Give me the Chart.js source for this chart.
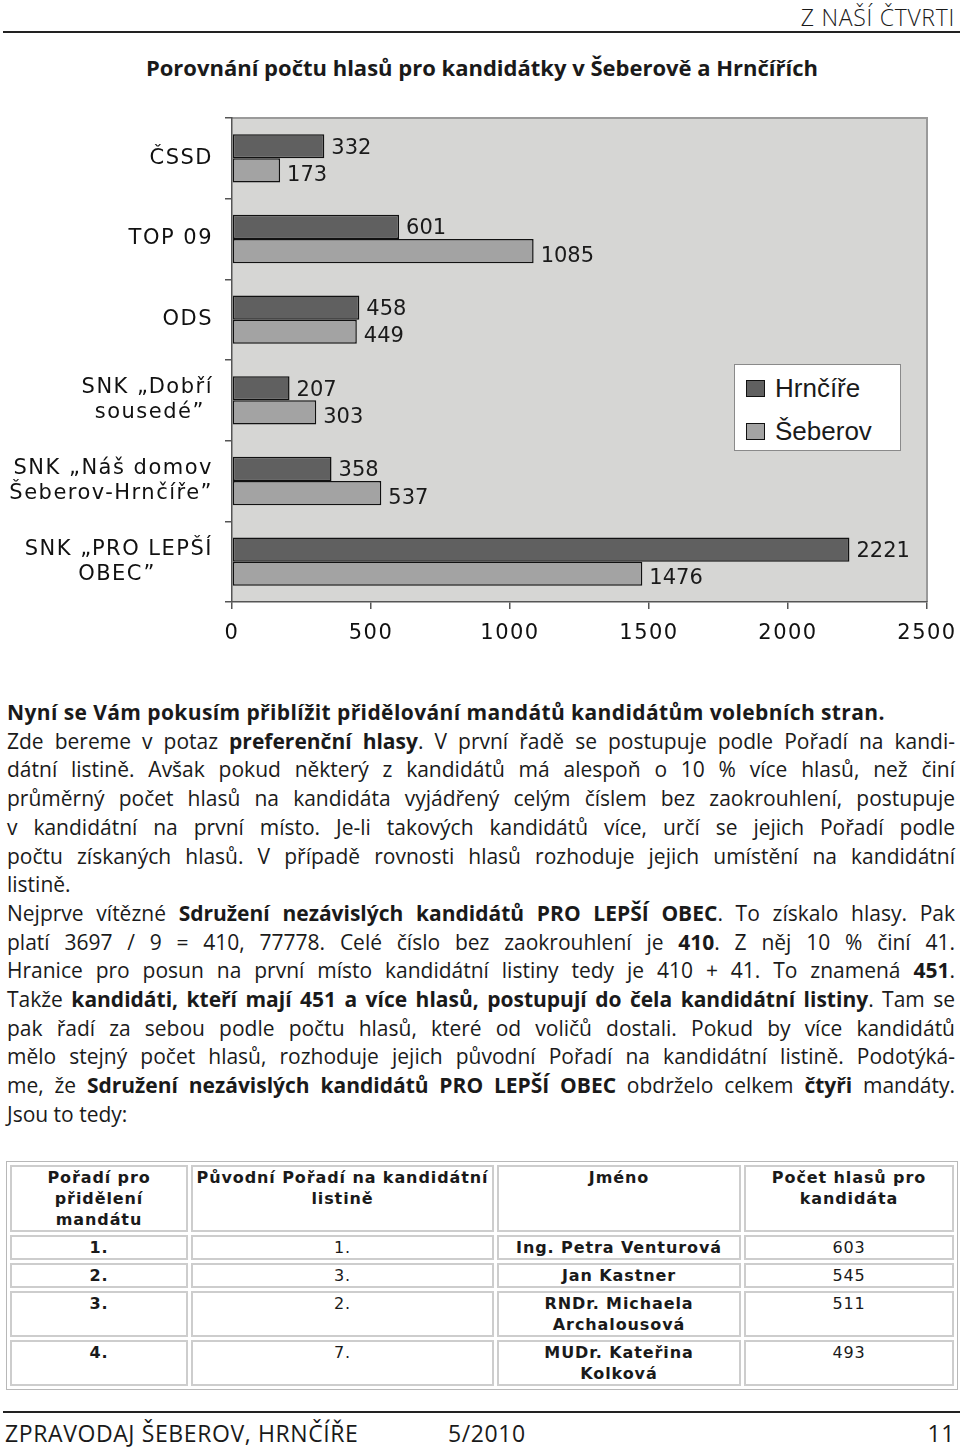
<!DOCTYPE html>
<html lang="cs">
<head>
<meta charset="utf-8">
<script src="https://cdn.jsdelivr.net/npm/chart.js@4"></script>
<style>
  html, body { margin: 0; padding: 0; background: #fff; }
  body { width: 960px; height: 1450px; position: relative; color: #1a1a1a; font-family: "Open Sans", Lato, sans-serif; overflow: hidden; }
  .abs { position: absolute; }
  #rubrika { top: 4px; right: 5px; font-size: 23px; line-height: 26px; font-weight: 300; letter-spacing: 0.7px; }
  .rule { left: 3px; right: 0; height: 2px; background: #222; }
  #nadpis { top: 53px; left: 0; width: 964px; text-align: center; font-size: 22px; line-height: 28px; font-weight: 700; }
  #graf { top: 100px; left: 0; width: 960px; height: 560px; }
  #legenda { left: 734px; top: 364px; width: 167px; height: 87px; box-sizing: border-box; border: 1px solid #8a8a8a; background: #fff; padding-top: 2px; font-family: "Liberation Sans", Arial, sans-serif; font-size: 26px; }
  #legenda .item { display: flex; align-items: center; height: 43px; }
  #legenda .box { width: 17px; height: 15px; border: 1px solid #111; margin: 0 10px 0 11px; }
  #text { top: 698px; left: 7px; width: 948px; font-size: 21px; line-height: 28.7px; }
  #text div { text-align: justify; text-align-last: justify; }
  #text div.end { text-align: left; text-align-last: left; }
  #text div.head { letter-spacing: 0.4px; }
  #text b { font-weight: 700; }
  #tabulka { top: 1161px; left: 6px; width: 952px; border: 1px solid #b8b8b8; border-spacing: 3px; table-layout: fixed; font-family: "DejaVu Sans", sans-serif; font-size: 16px; line-height: 21px; letter-spacing: 0.9px; }
  #tabulka td { border: 2px solid #cdcdcd; padding: 0 2px; text-align: center; vertical-align: top; }
  #tabulka .b { font-weight: 700; }
  #paticka { top: 1420px; left: 0; width: 960px; font-size: 23px; line-height: 26px; letter-spacing: 0.6px; }
</style>
</head>
<body>
<div id="rubrika" class="abs">Z NAŠÍ ČTVRTI</div>
<div class="abs rule" style="top:31px"></div>
<div id="nadpis" class="abs">Porovnání počtu hlasů pro kandidátky v Šeberově a Hrnčířích</div>

<div id="graf" class="abs"><canvas id="c" width="960" height="560"></canvas></div>
<div id="legenda" class="abs"></div>

<div id="text" class="abs">
  <div class="end head"><b>Nyní se Vám pokusím přiblížit přidělování mandátů kandidátům volebních stran.</b></div>
  <div>Zde bereme v potaz <b>preferenční hlasy</b>. V první řadě se postupuje podle Pořadí na kandi-</div>
  <div>dátní listině. Avšak pokud některý z kandidátů má alespoň o 10 % více hlasů, než činí</div>
  <div>průměrný počet hlasů na kandidáta vyjádřený celým číslem bez zaokrouhlení, postupuje</div>
  <div>v kandidátní na první místo. Je-li takových kandidátů více, určí se jejich Pořadí podle</div>
  <div>počtu získaných hlasů. V případě rovnosti hlasů rozhoduje jejich umístění na kandidátní</div>
  <div class="end">listině.</div>
  <div>Nejprve vítězné <b>Sdružení nezávislých kandidátů PRO LEPŠÍ OBEC</b>. To získalo hlasy. Pak</div>
  <div>platí 3697 / 9 = 410, 77778. Celé číslo bez zaokrouhlení je <b>410</b>. Z něj 10 % činí 41.</div>
  <div>Hranice pro posun na první místo kandidátní listiny tedy je 410 + 41. To znamená <b>451</b>.</div>
  <div>Takže <b>kandidáti, kteří mají 451 a více hlasů, postupují do čela kandidátní listiny</b>. Tam se</div>
  <div>pak řadí za sebou podle počtu hlasů, které od voličů dostali. Pokud by více kandidátů</div>
  <div>mělo stejný počet hlasů, rozhoduje jejich původní Pořadí na kandidátní listině. Podotýká-</div>
  <div>me, že <b>Sdružení nezávislých kandidátů PRO LEPŠÍ OBEC</b> obdrželo celkem <b>čtyři</b> mandáty.</div>
  <div class="end">Jsou to tedy:</div>
</div>

<table id="tabulka" class="abs">
  <colgroup><col style="width:178px"><col style="width:303px"><col style="width:244px"><col></colgroup>
  <tr class="b"><td>Pořadí pro<br>přidělení<br>mandátu</td><td>Původní Pořadí na kandidátní<br>listině</td><td>Jméno</td><td>Počet hlasů pro<br>kandidáta</td></tr>
  <tr><td class="b">1.</td><td>1.</td><td class="b">Ing. Petra Venturová</td><td>603</td></tr>
  <tr><td class="b">2.</td><td>3.</td><td class="b">Jan Kastner</td><td>545</td></tr>
  <tr><td class="b">3.</td><td>2.</td><td class="b">RNDr. Michaela<br>Archalousová</td><td>511</td></tr>
  <tr><td class="b">4.</td><td>7.</td><td class="b">MUDr. Kateřina<br>Kolková</td><td>493</td></tr>
</table>

<div class="abs rule" style="top:1411px"></div>
<div id="paticka" class="abs">
  <span class="abs" style="left:5px">ZPRAVODAJ ŠEBEROV, HRNČÍŘE</span>
  <span class="abs" style="left:448px">5/2010</span>
  <span class="abs" style="right:5px">11</span>
</div>

<script>
// kandidatky (trailing spaces keep the 2nd line roughly centred under the 1st)
const categories = [
  ['ČSSD'],
  ['TOP 09'],
  ['ODS'],
  ['SNK „Dobří', 'sousedé” '],
  ['SNK „Náš domov', 'Šeberov-Hrnčíře”'],
  ['SNK „PRO LEPŠÍ', 'OBEC”       ']
];
const seriesNames = ['Hrnčíře', 'Šeberov'];
const hrncire = [332, 601, 458, 207, 358, 2221];
const seberov = [173, 1085, 449, 303, 537, 1476];
const xMin = 0, xMax = 2500, xStep = 500;

const axisFont = { family: 'DejaVu Sans', size: 21 };

// grey plot background + frame, spaced axis text
const plotFrame = {
  id: 'plotFrame',
  beforeDraw(chart) {
    const { ctx, chartArea: a } = chart;
    ctx.fillStyle = '#d6d6d4';
    ctx.fillRect(a.left, a.top, a.right - a.left, a.bottom - a.top);
    ctx.strokeStyle = '#9a9a9a';
    ctx.lineWidth = 2;
    ctx.beginPath();
    ctx.moveTo(a.left, a.top);
    ctx.lineTo(a.right, a.top);
    ctx.lineTo(a.right, a.bottom);
    ctx.stroke();
    ctx.letterSpacing = '1.5px';
  },
  afterDraw(chart) {
    chart.ctx.letterSpacing = '0px';
  }
};

// value next to the end of each bar
const barLabels = {
  id: 'barLabels',
  afterDatasetsDraw(chart) {
    const ctx = chart.ctx;
    ctx.save();
    ctx.letterSpacing = '0px';
    ctx.font = '21px "DejaVu Sans"';
    ctx.fillStyle = '#1a1a1a';
    ctx.textAlign = 'left';
    ctx.textBaseline = 'alphabetic';
    chart.data.datasets.forEach((ds, i) => {
      chart.getDatasetMeta(i).data.forEach((bar, j) => {
        ctx.fillText(ds.data[j], bar.x + 7, bar.y + (i === 0 ? 7.5 : 10.5));
      });
    });
    ctx.restore();
  }
};

const chart = new Chart(document.getElementById('c'), {
  type: 'bar',
  data: {
    labels: categories,
    datasets: [
      { label: seriesNames[0], data: hrncire, backgroundColor: '#606060' },
      { label: seriesNames[1], data: seberov, backgroundColor: '#a3a3a3' }
    ]
  },
  options: {
    indexAxis: 'y',
    responsive: false,
    animation: false,
    layout: { padding: { top: 18, right: 33, left: 0, bottom: 8 } },
    datasets: {
      bar: { categoryPercentage: 0.6, barPercentage: 1, borderColor: '#111', borderWidth: 1.5, borderSkipped: false }
    },
    plugins: { legend: { display: false }, tooltip: { enabled: false } },
    scales: {
      x: {
        min: xMin, max: xMax,
        ticks: { stepSize: xStep, font: axisFont, color: '#111', padding: 12, callback: v => String(v) },
        grid: { drawOnChartArea: false, tickLength: 7, color: '#555', lineWidth: 1.5 },
        border: { color: '#555', width: 1.5 },
        afterFit: s => { s.height = 50; s.paddingLeft = 0; s.paddingRight = 0; }
      },
      y: {
        ticks: { font: axisFont, color: '#111', padding: 12 },
        grid: { drawOnChartArea: false, tickLength: 7, color: '#555', lineWidth: 1.5 },
        border: { color: '#555', width: 1.5 },
        afterFit: s => { s.width = 232; s.paddingTop = 0; s.paddingBottom = 0; }
      }
    }
  },
  plugins: [plotFrame, barLabels]
});

// legend box inside the plot, built from the datasets
const legend = document.getElementById('legenda');
chart.data.datasets.forEach(ds => {
  const item = document.createElement('div');
  item.className = 'item';
  const box = document.createElement('span');
  box.className = 'box';
  box.style.background = ds.backgroundColor;
  item.appendChild(box);
  item.appendChild(document.createTextNode(ds.label));
  legend.appendChild(item);
});
</script>
</body>
</html>
